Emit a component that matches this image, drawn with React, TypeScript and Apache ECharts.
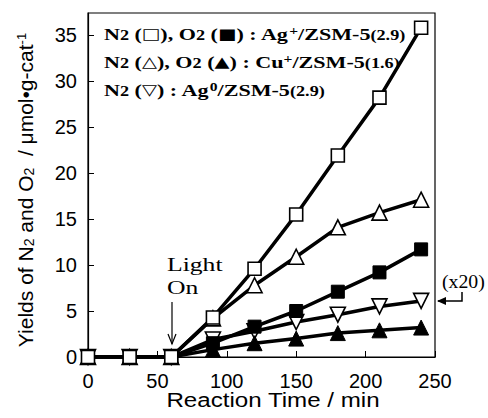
import React, { useEffect, useRef } from "react";
import * as echarts from "echarts";

const times = [0, 30, 60, 90, 120, 150, 180, 210, 240];
const n2AgPlus = [0, 0, 0, 4.3, 9.6, 15.5, 21.9, 28.2, 35.8];
const o2AgPlus = [0, 0, 0, 1.5, 3.3, 5.0, 7.1, 9.2, 11.7];
const n2CuPlus = [0, 0, 0, 4.2, 7.8, 10.9, 14.1, 15.7, 17.1];
const o2CuPlus = [0, 0, 0, 0.8, 1.5, 2.0, 2.6, 2.9, 3.2];
const n2Ag0 = [0, 0, 0, 1.9, 2.8, 3.8, 4.6, 5.5, 6.1];
const xTicks = [0, 50, 100, 150, 200, 250];
const yTicks = [0, 5, 10, 15, 20, 25, 30, 35];

const pair = (ys: number[]) => times.map((t, i) => [t, ys[i]]);

const serif = "'Liberation Serif', 'Times New Roman', serif";
const sans = "'Liberation Sans', Arial, sans-serif";

export default function App() {
  const ref = useRef<HTMLDivElement>(null);
  useEffect(() => {
    const chart = echarts.init(ref.current!, null, { renderer: "svg" });
    const hollow = { color: "#fff", borderColor: "#000", borderWidth: 1.6 };
    const filled = { color: "#000", borderColor: "#000", borderWidth: 1 };
    const mk = (name: string, ys: number[], symbol: string, style: any, rot = 0, z = 2) => ({
      name,
      type: "line",
      data: pair(ys),
      symbol,
      symbolSize: symbol === "rect" ? 13 : 15,
      symbolRotate: rot,
      showAllSymbol: true,
      lineStyle: { color: "#000", width: 3.5 },
      itemStyle: style,
      z,
    });
    const legendRich = {
      a: { fontFamily: serif, fontSize: 17, fontWeight: "bold", color: "#000", verticalAlign: "bottom" },
      s: { fontFamily: serif, fontSize: 14, fontWeight: "bold", color: "#000", verticalAlign: "bottom" },
      sup: { fontFamily: serif, fontSize: 12, fontWeight: "bold", color: "#000", verticalAlign: "top" },
      sym: { fontFamily: "'DejaVu Sans'", fontSize: 15, color: "#000", verticalAlign: "bottom", padding: [0, 0, 1, 0] },
    };
    const scaled = (x: number, y: number, sx: number, style: any) => ({
      type: "group",
      x,
      y,
      scaleX: sx,
      scaleY: 1,
      children: [{ type: "text", x: 0, y: 0, style }],
    });
    const legendLine = (text: string, y: number) =>
      scaled(104, y, 1.3, { text, rich: legendRich, verticalAlign: "middle" });
    chart.setOption({
      animation: false,
      grid: { left: 88, right: 53, top: 13, bottom: 61 },
      xAxis: {
        type: "value",
        min: 0,
        max: 250,
        interval: 50,
        axisLine: { lineStyle: { color: "#000", width: 1.2 } },
        axisTick: { inside: true, length: 6, lineStyle: { color: "#000" } },
        axisLabel: {
          fontFamily: sans,
          fontSize: 20,
          color: "#000",
          margin: 14,
          formatter: (v: number) => (xTicks.includes(v) ? String(v) : ""),
        },
        splitLine: { show: false },
      },
      yAxis: {
        type: "value",
        min: 0,
        max: 37.4,
        interval: 5,
        axisLine: { show: true, lineStyle: { color: "#000", width: 1.2 } },
        axisTick: { show: true, inside: true, length: 6, lineStyle: { color: "#000" } },
        axisLabel: {
          fontFamily: sans,
          fontSize: 20,
          color: "#000",
          margin: 11,
          showMaxLabel: false,
          formatter: (v: number) => (yTicks.includes(v) ? String(v) : ""),
        },
        splitLine: { show: false },
      },
      series: [
        mk("N2 Ag0", n2Ag0, "triangle", hollow, 180, 3),
        mk("O2 Cu+", o2CuPlus, "triangle", filled, 0, 3),
        mk("O2 Ag+", o2AgPlus, "rect", filled, 0, 3),
        mk("N2 Cu+", n2CuPlus, "triangle", hollow, 0, 4),
        mk("N2 Ag+", n2AgPlus, "rect", hollow, 0, 5),
      ],
      graphic: [
        {
          type: "rect",
          shape: { x: 88, y: 13, width: 347, height: 344 },
          style: { fill: "none", stroke: "#000", lineWidth: 1.2 },
          silent: true,
          z: 1,
        },
        legendLine("{a|N}{s|2}{a| (}{sym|□}{a|), O}{s|2}{a| (}{sym|■}{a|) : Ag}{sup|+}{a|/ZSM-5}{s|(2.9)}", 34),
        legendLine("{a|N}{s|2}{a| (}{sym|△}{a|), O}{s|2}{a| (}{sym|▲}{a|) : Cu}{sup|+}{a|/ZSM-5}{s|(1.6)}", 62),
        legendLine("{a|N}{s|2}{a| (}{sym|▽}{a|) : Ag}{sup|0}{a|/ZSM-5}{s|(2.9)}", 90),
        scaled(167, 265, 1.35, { text: "Light", font: `19px ${serif}`, fill: "#000", verticalAlign: "middle" }),
        scaled(167, 288, 1.35, { text: "On", font: `19px ${serif}`, fill: "#000", verticalAlign: "middle" }),
        {
          type: "line",
          shape: { x1: 172, y1: 302, x2: 172, y2: 344 },
          style: { stroke: "#000", lineWidth: 1.2 },
        },
        {
          type: "polyline",
          shape: { points: [[168, 334], [172, 344], [176, 334]] },
          style: { stroke: "#000", lineWidth: 1.2, fill: "none" },
        },
        scaled(442, 282, 1.1, { text: "(x20)", font: `18px ${serif}`, fill: "#000", verticalAlign: "middle" }),
        {
          type: "polyline",
          shape: { points: [[438, 301], [462, 301], [462, 292]] },
          style: { stroke: "#000", lineWidth: 1.5, fill: "none" },
        },
        {
          type: "polygon",
          shape: { points: [[437, 301], [446, 297], [446, 305]] },
          style: { fill: "#000" },
        },
        scaled(273, 400, 1.15, {
          text: "Reaction Time / min",
          font: `21px ${sans}`,
          fill: "#000",
          align: "center",
          verticalAlign: "middle",
        }),
        {
          type: "text",
          x: 25,
          y: 190,
          rotation: Math.PI / 2,
          style: {
            text: "{n|Yields of N}{sub|2}{n| and O}{sub|2}{n|  / μmol•g-cat}{sup|-1}",
            align: "center",
            verticalAlign: "middle",
            rich: {
              n: { fontFamily: sans, fontSize: 21, color: "#000" },
              sub: { fontFamily: sans, fontSize: 14, color: "#000", verticalAlign: "bottom", padding: [7, 0, 0, 0] },
              sup: { fontFamily: sans, fontSize: 13, color: "#000", verticalAlign: "top", padding: [0, 0, 7, 0] },
            },
          },
        },
      ],
    });
    return () => chart.dispose();
  }, []);
  return <div ref={ref} style={{ position: "absolute", left: 0, top: 0, width: 488, height: 418 }} />;
}
